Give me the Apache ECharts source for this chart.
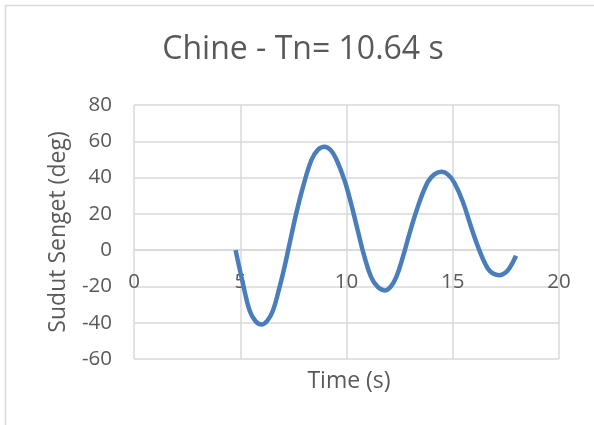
<!DOCTYPE html>
<html>
<head>
<meta charset="utf-8">
<title>Chine - Tn= 10.64 s</title>
<script src="https://cdn.jsdelivr.net/npm/echarts@6/dist/echarts.min.js"></script>
<style>
  html, body { margin: 0; padding: 0; background: #ffffff; }
  #chart { width: 594px; height: 425px; }
</style>
</head>
<body>
<div id="chart"></div>
<script>
// Roll angle response of the hull (time in seconds, angle in degrees)
const chartTitle = 'Chine - Tn= 10.64 s';
const xAxisTitle = 'Time (s)';
const yAxisTitle = 'Sudut Senget (deg)';

const timeTicks = [0, 5, 10, 15, 20];
const angleTicks = [-60, -40, -20, 0, 20, 40, 60, 80];

const time = [4.78, 5.13, 5.44, 5.72, 5.99, 6.27, 6.54, 6.85, 7.08, 7.32, 7.63, 7.95, 8.34, 8.65, 8.97,
              9.25, 9.51, 9.91, 10.22, 10.53, 10.85, 11.16, 11.47, 11.79, 12.07, 12.34, 12.65, 12.96, 13.35,
              13.82, 14.15, 14.48, 14.78, 15.08, 15.47, 15.86, 16.25, 16.65, 16.92, 17.19, 17.43, 17.66, 17.98];
const angle = [0, -18.6, -33.3, -39.2, -41, -39, -33.3, -20.4, -9.4, 3.5, 20, 34.7, 49.4, 55.3, 57,
               55.2, 50.4, 38.4, 25.5, 10.8, -3.9, -14.9, -20.3, -22.2, -20.3, -14.9, -3.9, 9, 23.7,
               37.5, 41.9, 43.2, 41.6, 37, 26.8, 12.9, 0, -10.1, -13, -13.8, -12.8, -10.1, -3.1];

const FONT = '"Open Sans", "Noto Sans", sans-serif';
const TEXT_COLOR = '#595959';
const GRID_COLOR = '#d9d9d9';

const GRID = { left: 134, right: 35, top: 105, bottom: 66 };
const plotHeight = 425 - GRID.top - GRID.bottom;
// The time axis crosses the angle axis at 0 deg: lift it from the bottom edge to that level
const zeroLift = plotHeight * (0 - angleTicks[0]) / (angleTicks[angleTicks.length - 1] - angleTicks[0]);

const points = time.map((t, i) => [t, angle[i]]);

const chart = echarts.init(document.getElementById('chart'), null, { renderer: 'canvas' });

chart.setOption({
  animation: false,
  backgroundColor: '#ffffff',
  grid: Object.assign({ containLabel: false }, GRID),
  xAxis: {
    type: 'value',
    min: timeTicks[0],
    max: timeTicks[timeTicks.length - 1],
    interval: timeTicks[1] - timeTicks[0],
    offset: -zeroLift,
    axisLine: { show: true, onZero: false, lineStyle: { color: GRID_COLOR, width: 1.5 } },
    axisTick: { show: false },
    axisLabel: { color: TEXT_COLOR, fontFamily: FONT, fontSize: 20.5, margin: 22 },
    splitLine: { show: true, lineStyle: { color: GRID_COLOR, width: 1.5 } }
  },
  yAxis: {
    type: 'value',
    min: angleTicks[0],
    max: angleTicks[angleTicks.length - 1],
    interval: angleTicks[1] - angleTicks[0],
    axisLine: { show: false, onZero: false },
    axisTick: { show: false },
    axisLabel: { color: TEXT_COLOR, fontFamily: FONT, fontSize: 20.5, margin: 22 },
    splitLine: { show: true, lineStyle: { color: GRID_COLOR, width: 1.5 } }
  },
  series: [{
    type: 'line',
    data: points,
    smooth: 0.4,
    showSymbol: false,
    lineStyle: { color: '#4a7ebb', width: 4.5 },
    itemStyle: { color: '#4a7ebb' }
  }],
  graphic: [
    {
      type: 'rect',
      silent: true,
      shape: { x: 5.5, y: 5.5, width: 900, height: 900 },
      style: { fill: 'none', stroke: GRID_COLOR, lineWidth: 1.5 }
    },
    {
      type: 'text',
      silent: true,
      x: 303, y: 50,
      style: { text: chartTitle, font: '32px ' + FONT, fill: TEXT_COLOR,
               textAlign: 'center', textVerticalAlign: 'middle' }
    },
    {
      type: 'text',
      silent: true,
      x: 349, y: 381,
      style: { text: xAxisTitle, font: '23px ' + FONT, fill: TEXT_COLOR,
               textAlign: 'center', textVerticalAlign: 'middle' }
    },
    {
      type: 'text',
      silent: true,
      x: 58, y: 232,
      rotation: Math.PI / 2,
      style: { text: yAxisTitle, font: '23px ' + FONT, fill: TEXT_COLOR,
               textAlign: 'center', textVerticalAlign: 'middle' }
    }
  ]
});
</script>
</body>
</html>
